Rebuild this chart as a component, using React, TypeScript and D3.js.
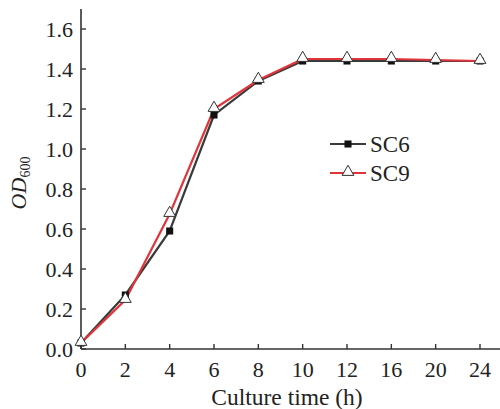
import * as d3 from 'd3';
import React, { useRef, useEffect } from 'react';

// culture time points (h), evenly spaced on the axis
const times = ['0', '2', '4', '6', '8', '10', '12', '16', '20', '24'];
const sc6 = [0.03, 0.27, 0.59, 1.17, 1.34, 1.44, 1.44, 1.44, 1.44, 1.44];
const sc9 = [0.03, 0.245, 0.675, 1.2, 1.345, 1.45, 1.45, 1.45, 1.445, 1.44];
const yTicks = [0, 0.2, 0.4, 0.6, 0.8, 1.0, 1.2, 1.4, 1.6];

const width = 500,
  height = 409;

export default function App() {
  const ref = useRef<SVGSVGElement>(null);

  useEffect(() => {
    const svg = d3.select(ref.current);
    svg.selectAll('*').remove();

    const left = 81,
      bottom = 349,
      top = 9,
      right = 500;

    const x = d3.scalePoint<string>().domain(times).range([left, 480]);
    const y = d3.scaleLinear().domain([0, 1.6]).range([bottom, 29]);
    const font = '"Liberation Serif", "Times New Roman", serif';

    const g = svg.append('g');

    // axes lines
    g.append('line')
      .attr('x1', left).attr('x2', left)
      .attr('y1', top).attr('y2', bottom)
      .attr('stroke', '#333').attr('stroke-width', 1.6);
    g.append('line')
      .attr('x1', left).attr('x2', right)
      .attr('y1', bottom).attr('y2', bottom)
      .attr('stroke', '#333').attr('stroke-width', 1.6);

    // y ticks (inward)
    yTicks.forEach((t) => {
      g.append('line')
        .attr('x1', left).attr('x2', left + 5)
        .attr('y1', y(t)).attr('y2', y(t))
        .attr('stroke', '#333').attr('stroke-width', 1.4);
      g.append('text')
        .attr('x', 73).attr('y', y(t) + 7.5)
        .attr('text-anchor', 'end')
        .attr('font-family', font).attr('font-size', 22)
        .attr('fill', '#222')
        .text(t.toFixed(1));
    });

    // x ticks (inward)
    times.forEach((t) => {
      const px = x(t)!;
      g.append('line')
        .attr('x1', px).attr('x2', px)
        .attr('y1', bottom).attr('y2', bottom - 5)
        .attr('stroke', '#333').attr('stroke-width', 1.4);
      g.append('text')
        .attr('x', px).attr('y', 377)
        .attr('text-anchor', 'middle')
        .attr('font-family', font).attr('font-size', 22)
        .attr('fill', '#222')
        .text(t);
    });

    // axis titles
    g.append('text')
      .attr('x', 287).attr('y', 405)
      .attr('text-anchor', 'middle')
      .attr('font-family', font).attr('font-size', 23.5)
      .attr('fill', '#222')
      .text('Culture time (h)');

    const yl = g.append('text')
      .attr('transform', 'translate(26,183) rotate(-90)')
      .attr('text-anchor', 'middle')
      .attr('font-family', font).attr('font-size', 22)
      .attr('fill', '#222');
    yl.append('tspan').attr('font-style', 'italic').text('OD');
    yl.append('tspan').attr('font-size', 14).attr('dy', 4).text('600');

    const line = d3.line<number>()
      .x((d, i) => x(times[i])!)
      .y((d) => y(d));

    g.append('path')
      .attr('d', line(sc6))
      .attr('fill', 'none').attr('stroke', '#3a3a3a').attr('stroke-width', 2.2);
    g.append('path')
      .attr('d', line(sc9))
      .attr('fill', 'none').attr('stroke', '#e0353b').attr('stroke-width', 2.2);

    const square = d3.symbol().type(d3.symbolSquare).size(50);
    const tri = d3.symbol().type(d3.symbolTriangle).size(60);

    g.selectAll('path.sq')
      .data(sc6)
      .enter()
      .append('path')
      .attr('class', 'sq')
      .attr('d', square)
      .attr('transform', (d, i) => `translate(${x(times[i])},${y(d)})`)
      .attr('fill', '#111');

    g.selectAll('path.tri')
      .data(sc9)
      .enter()
      .append('path')
      .attr('class', 'tri')
      .attr('d', tri)
      .attr('transform', (d, i) => `translate(${x(times[i])},${y(d) - 1})`)
      .attr('fill', '#fff').attr('stroke', '#333').attr('stroke-width', 1);

    // legend
    const lg = g.append('g');
    const rows = [
      { name: 'SC6', color: '#3a3a3a', sym: square, fill: '#111', stroke: 'none', yy: 144 },
      { name: 'SC9', color: '#e0353b', sym: tri, fill: '#fff', stroke: '#333', yy: 173 },
    ];
    rows.forEach((r) => {
      lg.append('line')
        .attr('x1', 330).attr('x2', 366)
        .attr('y1', r.yy).attr('y2', r.yy)
        .attr('stroke', r.color).attr('stroke-width', 2.2);
      lg.append('path')
        .attr('d', r.sym)
        .attr('transform', `translate(348,${r.yy - (r.name === 'SC9' ? 1 : 0)})`)
        .attr('fill', r.fill).attr('stroke', r.stroke).attr('stroke-width', 1);
      lg.append('text')
        .attr('x', 370).attr('y', r.yy + 8)
        .attr('font-family', font).attr('font-size', 23)
        .attr('fill', '#222')
        .text(r.name);
    });
  }, []);

  return <svg ref={ref} width={width} height={height} style={{ position: 'absolute', left: 0, top: 0 }} />;
}
